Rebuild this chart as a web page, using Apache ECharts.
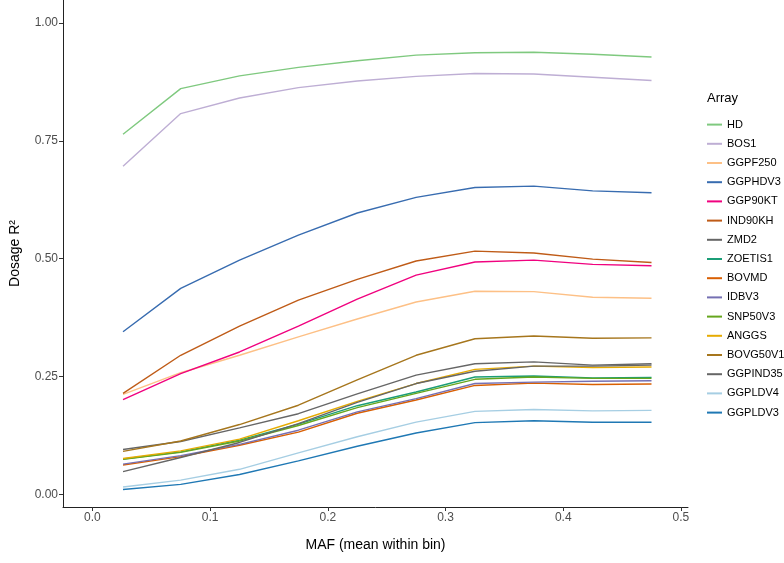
<!DOCTYPE html>
<html>
<head>
<meta charset="utf-8">
<script src="https://cdn.jsdelivr.net/npm/echarts@6/dist/echarts.min.js"></script>
<style>html,body{margin:0;padding:0;background:#fff}#c{width:784px;height:563px}</style>
</head>
<body>
<div id="c"></div>
<script>
const maf = [0.026, 0.075, 0.125, 0.175, 0.225, 0.275, 0.325, 0.375, 0.425, 0.475];
const arrays = ['HD','BOS1','GGPF250','GGPHDV3','GGP90KT','IND90KH','ZMD2','ZOETIS1','BOVMD','IDBV3','SNP50V3','ANGGS','BOVG50V1','GGPIND35','GGPLDV4','GGPLDV3'];
const HD       = [0.764, 0.861, 0.888, 0.906, 0.920, 0.932, 0.937, 0.938, 0.934, 0.928];
const BOS1     = [0.696, 0.808, 0.841, 0.863, 0.877, 0.887, 0.893, 0.892, 0.885, 0.878];
const GGPF250  = [0.212, 0.258, 0.295, 0.334, 0.372, 0.408, 0.431, 0.430, 0.418, 0.416];
const GGPHDV3  = [0.345, 0.437, 0.497, 0.550, 0.597, 0.630, 0.651, 0.654, 0.644, 0.640];
const GGP90KT  = [0.201, 0.256, 0.302, 0.357, 0.414, 0.465, 0.493, 0.497, 0.488, 0.485];
const IND90KH  = [0.214, 0.295, 0.357, 0.412, 0.456, 0.495, 0.516, 0.512, 0.499, 0.492];
const ZMD2     = [0.095, 0.112, 0.141, 0.171, 0.213, 0.253, 0.277, 0.281, 0.274, 0.277];
const ZOETIS1  = [0.075, 0.090, 0.115, 0.149, 0.188, 0.217, 0.249, 0.251, 0.247, 0.248];
const BOVMD    = [0.062, 0.080, 0.104, 0.132, 0.172, 0.200, 0.231, 0.236, 0.233, 0.234];
const IDBV3    = [0.064, 0.082, 0.106, 0.136, 0.175, 0.203, 0.235, 0.238, 0.240, 0.241];
const SNP50V3  = [0.074, 0.089, 0.113, 0.146, 0.184, 0.214, 0.244, 0.249, 0.246, 0.246];
const ANGGS    = [0.076, 0.092, 0.117, 0.156, 0.197, 0.235, 0.265, 0.272, 0.269, 0.270];
const BOVG50V1 = [0.091, 0.113, 0.148, 0.189, 0.243, 0.295, 0.330, 0.336, 0.331, 0.332];
const GGPIND35 = [0.048, 0.078, 0.110, 0.150, 0.195, 0.235, 0.261, 0.272, 0.272, 0.274];
const GGPLDV4  = [0.0155, 0.030, 0.053, 0.088, 0.122, 0.153, 0.176, 0.180, 0.177, 0.178];
const GGPLDV3  = [0.010, 0.021, 0.042, 0.071, 0.102, 0.130, 0.152, 0.156, 0.153, 0.153];
const xTicks = [0, 0.1, 0.2, 0.3, 0.4, 0.5];
const yTicks = [0, 0.25, 0.5, 0.75, 1.0];

const values = {HD, BOS1, GGPF250, GGPHDV3, GGP90KT, IND90KH, ZMD2, ZOETIS1, BOVMD, IDBV3, SNP50V3, ANGGS, BOVG50V1, GGPIND35, GGPLDV4, GGPLDV3};
const colors = {
  HD:'#7FC97F', BOS1:'#BEAED4', GGPF250:'#FDC086', GGPHDV3:'#386CB0', GGP90KT:'#F0027F',
  IND90KH:'#BF5B17', ZMD2:'#666666', ZOETIS1:'#1B9E77', BOVMD:'#D95F02', IDBV3:'#7570B3',
  SNP50V3:'#66A61E', ANGGS:'#E6AB02', BOVG50V1:'#A6761D', GGPIND35:'#666666',
  GGPLDV4:'#A6CEE3', GGPLDV3:'#1F78B4'
};
const font = 'Liberation Sans, Arial, sans-serif';
const chart = echarts.init(document.getElementById('c'), null, {renderer:'canvas'});
const series = arrays.map(name => ({
  name, type:'line', symbol:'none', showSymbol:false,
  data: maf.map((x,i) => [x, values[name][i]]),
  lineStyle:{color:colors[name], width:1.4},
  itemStyle:{color:colors[name]},
  emphasis:{disabled:true}, animation:false
}));
chart.setOption({
  animation:false,
  backgroundColor:'#fff',
  title:{text:'Array', left:707, top:92, padding:0,
    textStyle:{fontFamily:font, fontSize:13, fontWeight:'normal', color:'#000'}},
  legend:{orient:'vertical', left:707, top:115, padding:0, itemGap:0,
    itemWidth:15, itemHeight:2, icon:'rect',
    data: arrays,
    textStyle:{fontFamily:font, fontSize:11, color:'#000', lineHeight:19.2}},
  grid:{left:63, top:0, right:96, bottom:56, containLabel:false},
  xAxis:{type:'value', min:-0.025, max:0.506,
    name:'MAF (mean within bin)', nameLocation:'middle', nameGap:31, nameMoveOverlap:false,
    nameTextStyle:{fontFamily:font, fontSize:14, color:'#000', verticalAlign:'top'},
    axisLine:{show:true, onZero:false, lineStyle:{color:'#222', width:1}},
    axisTick:{show:true, length:4, lineStyle:{color:'#333'}, customValues:xTicks},
    axisLabel:{fontFamily:font, fontSize:12, color:'#4D4D4D', margin:5,
      customValues:xTicks, formatter:v => v.toFixed(1)},
    splitLine:{show:false}},
  yAxis:{type:'value', min:-0.027, max:1.049,
    name:'Dosage R²', nameLocation:'middle', nameGap:41, nameRotate:90, nameMoveOverlap:false,
    nameTextStyle:{fontFamily:font, fontSize:14, color:'#000', verticalAlign:'bottom'},
    axisLine:{show:true, onZero:false, lineStyle:{color:'#222', width:1}},
    axisTick:{show:true, length:4, lineStyle:{color:'#333'}, customValues:yTicks},
    axisLabel:{fontFamily:font, fontSize:12, color:'#4D4D4D', margin:5,
      customValues:yTicks, formatter:v => v.toFixed(2)},
    splitLine:{show:false}},
  series
});
</script>
</body>
</html>
